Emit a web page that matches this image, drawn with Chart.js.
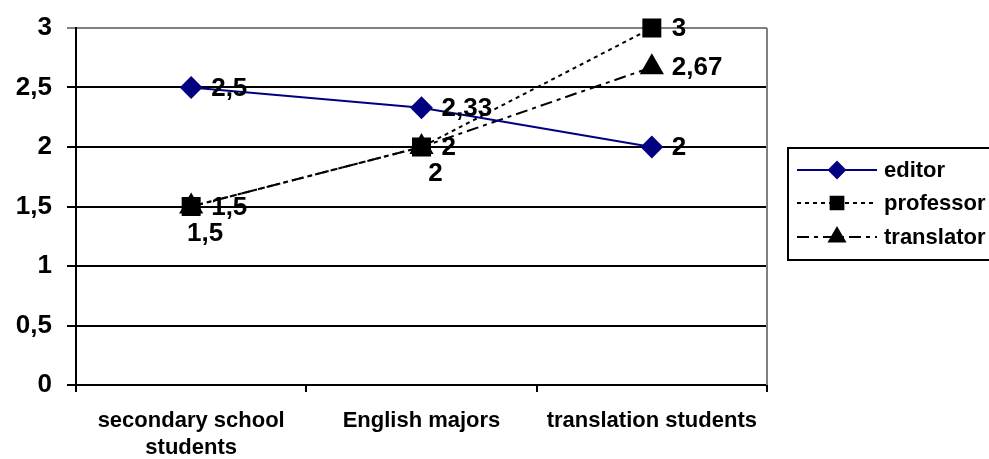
<!DOCTYPE html>
<html>
<head>
<meta charset="utf-8">
<script src="https://cdn.jsdelivr.net/npm/chart.js@4.4.1/dist/chart.umd.min.js"></script>
<style>
  html, body { margin: 0; padding: 0; background: #ffffff; }
  #wrap { width: 989px; height: 459px; position: relative; }
</style>
</head>
<body>
<div id="wrap"><canvas id="c"></canvas></div>
<script>
// Groups of respondents on the x axis
const categories = [['secondary school', 'students'], 'English majors', 'translation students'];

// Mean scores per rater
const editorScores = [2.5, 2.33, 2];
const professorScores = [1.5, 2, 3];
const translatorScores = [1.5, 2, 2.67];

// Value axis ticks
const yTicks = [0, 0.5, 1, 1.5, 2, 2.5, 3];

// Where each point's value label sits relative to its marker
const professorLabelPos = ['right', 'right', 'right'];
const translatorLabelPos = ['below', 'below', 'right'];
const editorLabelPos = ['right', 'right', 'right'];

const FAMILY = '"Liberation Sans", Arial, sans-serif';
const NUM_FONT = 'bold 26px ' + FAMILY;
const TXT_FONT = 'bold 22px ' + FAMILY;

const fmt = v => String(v).replace('.', ',');

// Draws the value of each point beside its marker
const valueLabels = {
  id: 'valueLabels',
  afterDatasetsDraw(chart) {
    const ctx = chart.ctx;
    ctx.save();
    ctx.font = NUM_FONT;
    ctx.fillStyle = '#000000';
    chart.data.datasets.forEach((ds, di) => {
      const meta = chart.getDatasetMeta(di);
      meta.data.forEach((pt, i) => {
        const text = fmt(ds.data[i]);
        const pos = ds.labelPos[i];
        ctx.textBaseline = 'middle';
        if (pos === 'right') {
          ctx.textAlign = 'left';
          ctx.fillText(text, pt.x + 20, pt.y + 1);
        } else {
          ctx.textAlign = 'center';
          ctx.fillText(text, pt.x + 14, pt.y + 27);
        }
      });
    });
    ctx.restore();
  }
};

// Plot frame on the right side and the boxed legend
const frameAndLegend = {
  id: 'frameAndLegend',
  afterDraw(chart) {
    const ctx = chart.ctx;
    const a = chart.chartArea;
    ctx.save();
    ctx.strokeStyle = '#808080';
    ctx.lineWidth = 2;
    ctx.beginPath();
    ctx.moveTo(a.right, a.top);
    ctx.lineTo(a.right, a.bottom);
    ctx.stroke();

    // legend box
    const bx = 788, by = 148, bw = 210, bh = 112;
    ctx.strokeStyle = '#000000';
    ctx.lineWidth = 2;
    ctx.strokeRect(bx, by, bw, bh);

    const rows = [170, 203, 237];
    chart.data.datasets.forEach((ds, i) => {
      const y = rows[i];
      ctx.save();
      ctx.strokeStyle = ds.borderColor;
      ctx.lineWidth = ds.borderWidth;
      ctx.setLineDash(ds.borderDash || []);
      ctx.beginPath();
      ctx.moveTo(797, y);
      ctx.lineTo(877, y);
      ctx.stroke();
      ctx.restore();
      ctx.save();
      ctx.fillStyle = ds.pointBackgroundColor;
      ctx.strokeStyle = ds.pointBorderColor;
      Chart.helpers.drawPoint(ctx, {
        pointStyle: ds.pointStyle,
        radius: ds.legendRadius,
        borderWidth: 1,
        rotation: 0
      }, 837, y);
      ctx.restore();
      ctx.fillStyle = '#000000';
      ctx.font = TXT_FONT;
      ctx.textAlign = 'left';
      ctx.textBaseline = 'middle';
      ctx.fillText(ds.label, 884, y + 1);
    });
    ctx.restore();
  }
};

new Chart(document.getElementById('c'), {
  type: 'line',
  data: {
    labels: categories,
    datasets: [
      {
        label: 'editor',
        data: editorScores,
        labelPos: editorLabelPos,
        borderColor: '#000080',
        borderWidth: 2,
        pointStyle: 'rectRot',
        pointRadius: 10,
        legendRadius: 8,
        pointBackgroundColor: '#000080',
        pointBorderColor: '#000080',
        tension: 0,
        clip: false
      },
      {
        label: 'professor',
        data: professorScores,
        labelPos: professorLabelPos,
        borderColor: '#000000',
        borderWidth: 2,
        borderDash: [4, 4],
        pointStyle: 'rect',
        pointRadius: 12,
        legendRadius: 9,
        pointBackgroundColor: '#000000',
        pointBorderColor: '#000000',
        tension: 0,
        clip: false
      },
      {
        label: 'translator',
        data: translatorScores,
        labelPos: translatorLabelPos,
        borderColor: '#000000',
        borderWidth: 2,
        borderDash: [12, 5, 4, 5],
        pointStyle: 'triangle',
        pointRadius: 12,
        legendRadius: 9,
        pointBackgroundColor: '#000000',
        pointBorderColor: '#000000',
        tension: 0,
        clip: false
      }
    ]
  },
  options: {
    responsive: true,
    maintainAspectRatio: false,
    animation: false,
    layout: { padding: { top: 28, right: 222, left: 0, bottom: 0 } },
    plugins: {
      legend: { display: false },
      tooltip: { enabled: false }
    },
    scales: {
      x: {
        offset: true,
        grid: {
          offset: true,
          drawOnChartArea: false,
          drawTicks: true,
          tickLength: 7,
          color: '#000000',
          lineWidth: 2
        },
        border: { color: '#000000', width: 2 },
        ticks: {
          autoSkip: false,
          maxRotation: 0,
          minRotation: 0,
          padding: 16,
          color: '#000000',
          font: { family: FAMILY, size: 22, weight: 'bold', lineHeight: 1.2 }
        },
        afterFit(scale) { scale.height = 74; }
      },
      y: {
        min: 0,
        max: 3,
        afterBuildTicks(scale) { scale.ticks = yTicks.map(v => ({ value: v })); },
        grid: {
          color: ctx => (ctx.tick && ctx.tick.value === 3 ? '#808080' : '#000000'),
          lineWidth: 2,
          drawTicks: true,
          tickLength: 9
        },
        border: { color: '#000000', width: 2 },
        ticks: {
          padding: 15,
          color: '#000000',
          font: { family: FAMILY, size: 26, weight: 'bold' },
          callback: v => fmt(v)
        },
        afterFit(scale) {
          scale.width = 76;
          scale.paddingTop = 0;
          scale.paddingBottom = 0;
        }
      }
    }
  },
  plugins: [valueLabels, frameAndLegend]
});
</script>
</body>
</html>
